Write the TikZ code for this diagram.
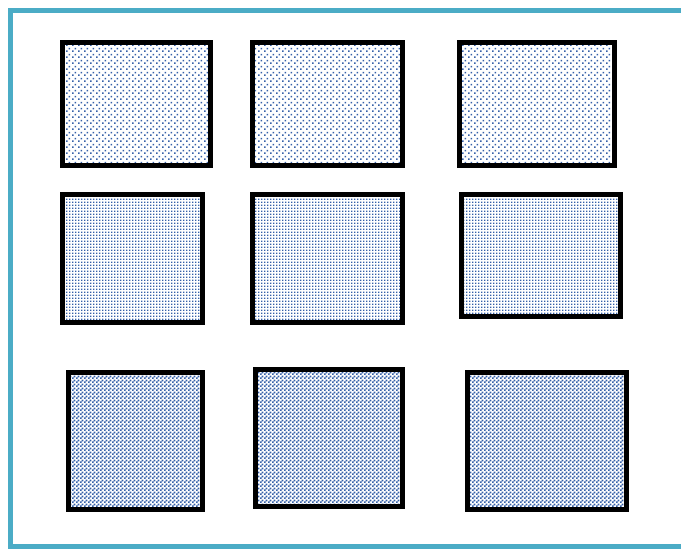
\documentclass[tikz,border=0pt]{standalone}
\usetikzlibrary{patterns}
\definecolor{frame}{HTML}{4BACC6}
\definecolor{dotblue}{HTML}{3560A8}
\pgfdeclarepatternformonly{sparsedots}{\pgfpointorigin}{\pgfpoint{6pt}{6pt}}{\pgfpoint{6pt}{6pt}}{%
  \pgfpathrectangle{\pgfpoint{0pt}{0pt}}{\pgfpoint{1.9pt}{1.9pt}}%
  \pgfpathrectangle{\pgfpoint{3pt}{3pt}}{\pgfpoint{1.9pt}{1.9pt}}%
  \pgfusepath{fill}}
\pgfdeclarepatternformonly{mediumdots}{\pgfpointorigin}{\pgfpoint{3.2pt}{3.2pt}}{\pgfpoint{3.2pt}{3.2pt}}{%
  \pgfpathrectangle{\pgfpoint{0pt}{0pt}}{\pgfpoint{1.8pt}{1.8pt}}%
  \pgfusepath{fill}}
\pgfdeclarepatternformonly{densedots}{\pgfpointorigin}{\pgfpoint{4pt}{4pt}}{\pgfpoint{4pt}{4pt}}{%
  \pgfpathrectangle{\pgfpoint{0pt}{0pt}}{\pgfpoint{2.1pt}{2.1pt}}%
  \pgfpathrectangle{\pgfpoint{2pt}{2pt}}{\pgfpoint{2.1pt}{2.1pt}}%
  \pgfusepath{fill}}
\tikzset{
  boxbase/.style={draw=black, line width=5.5pt, pattern color=dotblue},
  boxa/.style={boxbase, pattern=sparsedots},
  boxb/.style={boxbase, pattern=mediumdots},
  boxc/.style={boxbase, pattern=densedots},
}
\begin{document}
\begin{tikzpicture}[x=1pt,y=-1pt]
\useasboundingbox (0,0) rectangle (681,550);
\fill[white] (0,0) rectangle (681,550);
\draw[frame, line width=5pt] (10.5,10.5) rectangle (695,546.5);
% row 1
\draw[boxa] (62.5,42.5) rectangle (210.5,165.5);
\draw[boxa] (252.5,42.5) rectangle (402.5,165.5);
\draw[boxa] (459.5,42.5) rectangle (614.5,165.5);
% row 2
\draw[boxb] (62.5,194.5) rectangle (202.5,322.5);
\draw[boxb] (252.5,194.5) rectangle (402.5,322.5);
\draw[boxb] (461.5,194.5) rectangle (620.5,316.5);
% row 3
\draw[boxc] (68.5,372.5) rectangle (202.5,509.5);
\draw[boxc] (255.5,369.5) rectangle (402.5,506.5);
\draw[boxc] (467.5,372.5) rectangle (626.5,509.5);
\end{tikzpicture}
\end{document}
